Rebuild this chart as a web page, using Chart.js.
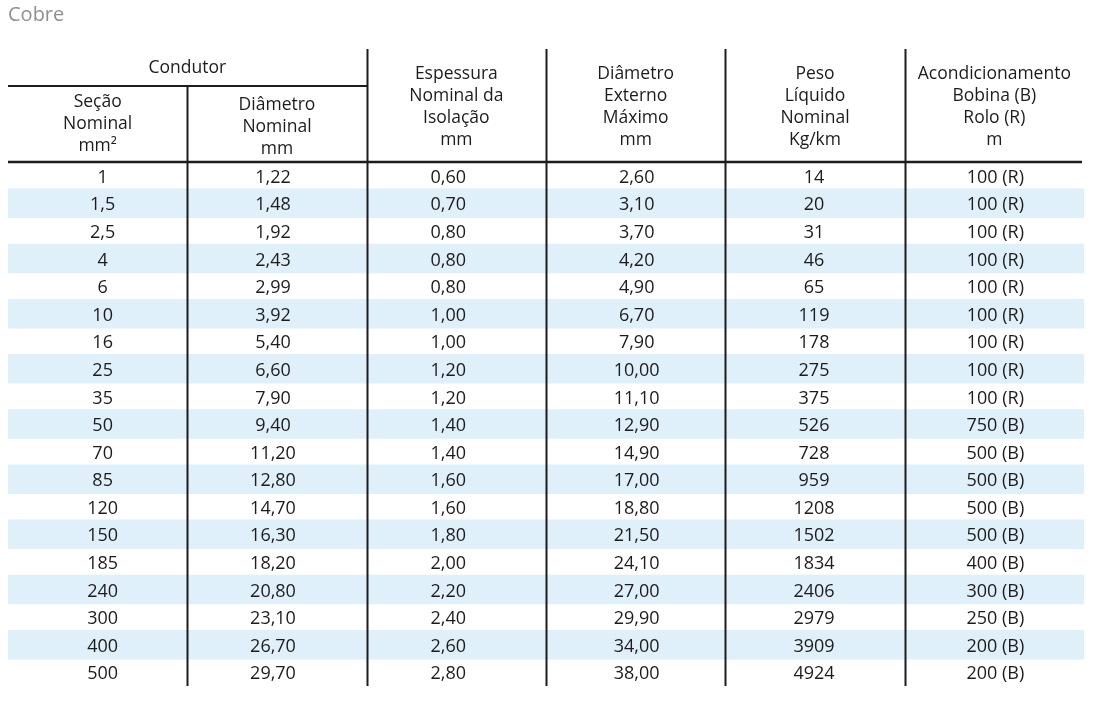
<!DOCTYPE html>
<html>
<head>
<meta charset="utf-8">
<script src="https://cdn.jsdelivr.net/npm/chart.js@4.4.1/dist/chart.umd.min.js"></script>
<style>
  body { margin: 0; background: #fff; }
  #wrap { width: 1101px; height: 723px; position: relative; }
</style>
</head>
<body>
<div id="wrap"><canvas id="tabela"></canvas></div>
<script>
// dados da tabela (cabo de cobre)
const secao = [1, 1.5, 2.5, 4, 6, 10, 16, 25, 35, 50, 70, 85, 120, 150, 185, 240, 300, 400, 500];
const diametroNominal = [1.22, 1.48, 1.92, 2.43, 2.99, 3.92, 5.40, 6.60, 7.90, 9.40, 11.20, 12.80, 14.70, 16.30, 18.20, 20.80, 23.10, 26.70, 29.70];
const espessura = [0.60, 0.70, 0.80, 0.80, 0.80, 1.00, 1.00, 1.20, 1.20, 1.40, 1.40, 1.60, 1.60, 1.80, 2.00, 2.20, 2.40, 2.60, 2.80];
const diametroExterno = [2.60, 3.10, 3.70, 4.20, 4.90, 6.70, 7.90, 10.00, 11.10, 12.90, 14.90, 17.00, 18.80, 21.50, 24.10, 27.00, 29.90, 34.00, 38.00];
const peso = [14, 20, 31, 46, 65, 119, 178, 275, 375, 526, 728, 959, 1208, 1502, 1834, 2406, 2979, 3909, 4924];
const acondMetros = [100, 100, 100, 100, 100, 100, 100, 100, 100, 750, 500, 500, 500, 500, 400, 300, 250, 200, 200];
const acondTipo = ["R", "R", "R", "R", "R", "R", "R", "R", "R", "B", "B", "B", "B", "B", "B", "B", "B", "B", "B"];

const cabecalhos = [
  ["Seção", "Nominal", "mm²"],
  ["Diâmetro", "Nominal", "mm"],
  ["Espessura", "Nominal da", "Isolação", "mm"],
  ["Diâmetro", "Externo", "Máximo", "mm"],
  ["Peso", "Líquido", "Nominal", "Kg/km"],
  ["Acondicionamento", "Bobina (B)", "Rolo (R)", "m"]
];
const grupo = "Condutor";

const virgula = (v, casas) => (casas == null ? String(v) : v.toFixed(casas)).replace(".", ",");

const linhas = secao.map((s, i) => [
  virgula(s),
  virgula(diametroNominal[i], 2),
  virgula(espessura[i], 2),
  virgula(diametroExterno[i], 2),
  String(peso[i]),
  acondMetros[i] + " (" + acondTipo[i] + ")"
]);

const nCols = cabecalhos.length;
const TXT = "#1e1b1c";
const FONTE = "'Open Sans', sans-serif";

// ajuste fino do centro do texto em cada coluna
const desvioTexto = [5, -4, -8, 1, -1, 1];

const tabelaPlugin = {
  id: "tabela",
  afterDatasetsDraw(chart) {
    const { ctx, chartArea, scales: { x, y } } = chart;
    const topo = chartArea.top;
    ctx.save();

    // linhas
    ctx.strokeStyle = TXT;
    ctx.lineWidth = 2;
    ctx.beginPath();
    for (let c = 1; c < nCols; c++) {
      const px = Math.round(x.getPixelForValue(c)) + 0.5;
      ctx.moveTo(px, c === 1 ? topo - 76 : topo - 113);
      ctx.lineTo(px, chartArea.bottom);
    }
    ctx.moveTo(chartArea.left, topo - 76);
    ctx.lineTo(x.getPixelForValue(2), topo - 76);
    ctx.stroke();
    ctx.lineWidth = 2.5;
    ctx.beginPath();
    ctx.moveTo(chartArea.left, topo);
    ctx.lineTo(chartArea.right - 2, topo);
    ctx.stroke();

    // cabeçalho
    ctx.fillStyle = TXT;
    ctx.textAlign = "center";
    ctx.textBaseline = "middle";
    ctx.font = "17.5px " + FONTE;
    ctx.fillText(grupo, x.getPixelForValue(1), topo - 94);
    cabecalhos.forEach((linhasCab, c) => {
      const cx = x.getPixelForValue(c + 0.5);
      const inicio = c === 0 ? topo - 60 : c === 1 ? topo - 57 : topo - 88;
      linhasCab.forEach((t, k) => ctx.fillText(t, cx, inicio + k * 22));
    });

    // células
    ctx.font = "18px " + FONTE;
    linhas.forEach((linha, r) => {
      const cy = y.getPixelForValue(r) + 2;
      linha.forEach((t, c) => {
        ctx.fillText(t, x.getPixelForValue(c + 0.5) + desvioTexto[c], cy);
      });
    });
    ctx.restore();
  }
};

new Chart(document.getElementById("tabela"), {
  type: "bar",
  data: {
    labels: linhas.map(l => l[0]),
    datasets: [{
      data: linhas.map((_, i) => (i % 2 === 1 ? [0, nCols] : null)),
      backgroundColor: "#dff0fa",
      borderWidth: 0,
      barPercentage: 1,
      categoryPercentage: 1.07
    }]
  },
  options: {
    indexAxis: "y",
    responsive: true,
    maintainAspectRatio: false,
    animation: false,
    events: [],
    layout: { padding: { left: 8, right: 17, bottom: 37, top: 0 } },
    scales: {
      x: { type: "linear", min: 0, max: nCols, display: false },
      y: { type: "category", display: false }
    },
    plugins: {
      legend: { display: false },
      tooltip: { enabled: false },
      title: {
        display: true,
        text: "Cobre",
        align: "start",
        color: "#8c9097",
        font: { family: FONTE, size: 20, weight: "normal" },
        padding: { top: 3, bottom: 135 }
      }
    }
  },
  plugins: [tabelaPlugin]
});
</script>
</body>
</html>
